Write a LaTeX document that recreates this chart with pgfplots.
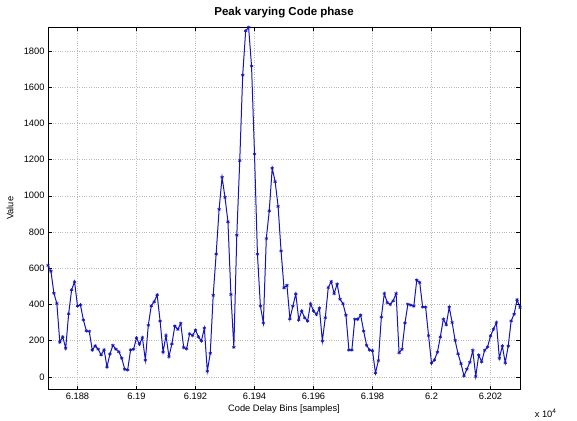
\documentclass[border=0pt]{standalone}
\usepackage{pgfplots}
\pgfplotsset{compat=1.18}
\usepackage{fontspec}
\setmainfont{Liberation Sans}
\definecolor{lineblue}{RGB}{20,20,185}
\pgfplotstableread{
x y
61870 615
61871 583
61872 462
61873 405
61874 191
61875 221
61876 158
61877 348
61878 480
61879 525
61880 392
61881 397
61882 314
61883 254
61884 251
61885 148
61886 171
61887 153
61888 121
61889 150
61890 55
61891 126
61892 174
61893 153
61894 139
61895 103
61896 42
61897 38
61898 149
61899 152
61900 215
61901 180
61902 217
61903 92
61904 285
61905 392
61906 415
61907 453
61908 308
61909 137
61910 228
61911 112
61912 182
61913 281
61914 262
61915 295
61916 162
61917 155
61918 238
61919 228
61920 258
61921 221
61922 198
61923 269
61924 31
61925 130
61926 450
61927 678
61928 925
61929 1102
61930 991
61931 856
61932 455
61933 163
61934 782
61935 1194
61936 1666
61937 1910
61938 1930
61939 1716
61940 1231
61941 677
61942 390
61943 298
61944 764
61945 917
61946 1152
61947 1078
61948 941
61949 695
61950 492
61951 505
61952 320
61953 390
61954 458
61955 315
61956 364
61957 327
61958 308
61959 404
61960 364
61961 345
61962 379
61963 198
61964 327
61965 493
61966 526
61967 460
61968 512
61969 428
61970 404
61971 340
61972 148
61973 148
61974 318
61975 318
61976 340
61977 253
61978 174
61979 148
61980 144
61981 21
61982 90
61983 331
61984 460
61985 410
61986 400
61987 420
61988 460
61989 133
61990 152
61991 297
61992 401
61993 396
61994 390
61995 534
61996 521
61997 386
61998 385
61999 228
62000 76
62001 94
62002 136
62003 221
62004 318
62005 288
62006 385
62007 300
62008 201
62009 127
62010 73
62011 5
62012 42
62013 80
62014 146
62015 2
62016 120
62017 83
62018 146
62019 165
62020 226
62021 263
62022 300
62023 102
62024 170
62025 78
62026 170
62027 309
62028 346
62029 426
62030 383
}\datatable
\begin{document}
\begin{tikzpicture}
\begin{axis}[
  scale only axis,
  width=472pt, height=362.5pt,
  xmin=61870, xmax=62030, ymin=-70, ymax=1932,
  xtick={61880,61900,61920,61940,61960,61980,62000,62020},
  xticklabels={6.188,6.19,6.192,6.194,6.196,6.198,6.2,6.202},
  scaled x ticks=false,
  ytick={0,200,400,600,800,1000,1200,1400,1600,1800},
  /pgf/number format/assume math mode=true,
  /pgf/number format/1000 sep={},
  tick label style={font=\fontsize{9.3}{11}\selectfont, black},
  tick align=inside,
  major tick length=4pt,
  tick style={black, line width=0.4pt},
  axis line style={black, line width=0.5pt},
  grid=major,
  major grid style={gray!55, line width=0.4pt, dash pattern=on 0.8pt off 1.6pt},
  clip=true,
]
\addplot[color=lineblue, line width=1pt, mark=asterisk, mark size=1.8pt, mark options={line width=0.6pt}] table[x=x,y=y] {\datatable};
\coordinate (bl) at (rel axis cs:0,0);
\coordinate (tr) at (rel axis cs:1,1);
\end{axis}
\path (bl) -- (tr) coordinate[pos=0.5] (mid);
\node[font=\fontsize{9.3}{11}\selectfont, anchor=center] at ([yshift=-19.5pt]mid |- bl) {Code Delay Bins [samples]};
\node[font=\fontsize{9.3}{11}\selectfont, rotate=90, anchor=center] at ([xshift=-38pt]bl |- mid) {Value};
\node[font=\bfseries\fontsize{11.5}{13}\selectfont, anchor=center] at ([yshift=14pt]mid |- tr) {Peak varying Code phase};
\node[font=\fontsize{9.3}{11}\selectfont, anchor=east] at ([xshift=40pt,yshift=-23.5pt]tr |- bl) {x 10\textsuperscript{4}};
\pgfresetboundingbox
\path ([shift={(-48pt,-30.5pt)}]bl) rectangle ([shift={(57pt,27pt)}]tr);
\end{tikzpicture}
\end{document}
